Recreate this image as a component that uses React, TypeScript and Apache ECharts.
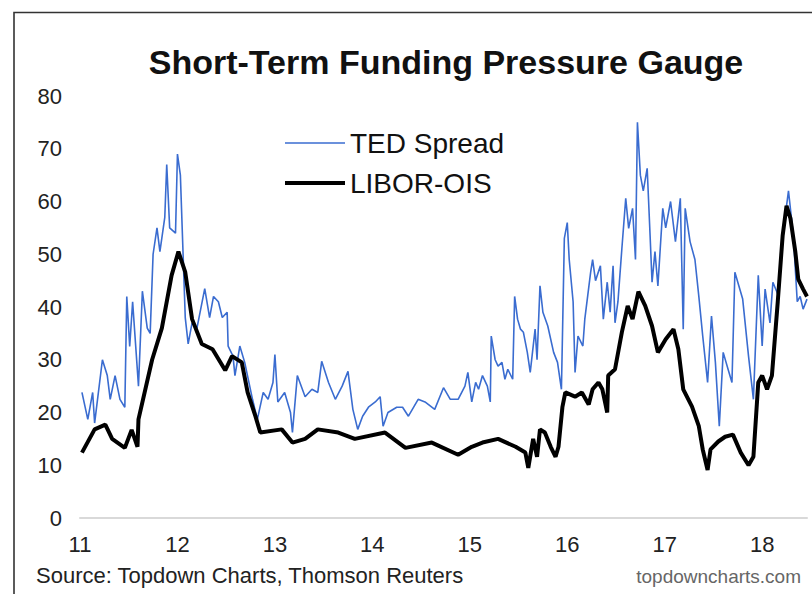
import React, { useEffect, useRef } from "react";
import * as echarts from "echarts";

const chartTitle = "Short-Term Funding Pressure Gauge";
const sourceText = "Source: Topdown Charts, Thomson Reuters";
const siteText = "topdowncharts.com";
const seriesNames = ["TED Spread", "LIBOR-OIS"];

const yearTicks = [2011, 2012, 2013, 2014, 2015, 2016, 2017, 2018];
const yearLabels = ["11", "12", "13", "14", "15", "16", "17", "18"];

const tedDates = [
  2011.02, 2011.08, 2011.13, 2011.15, 2011.23, 2011.28, 2011.31, 2011.36, 2011.41, 2011.46,
  2011.48, 2011.51, 2011.54, 2011.6, 2011.64, 2011.69, 2011.72, 2011.75, 2011.79, 2011.82,
  2011.87, 2011.89, 2011.92, 2011.98, 2012.0, 2012.03, 2012.08, 2012.11, 2012.15, 2012.2,
  2012.28, 2012.33, 2012.37, 2012.42, 2012.46, 2012.51, 2012.52, 2012.57, 2012.59, 2012.64,
  2012.69, 2012.77, 2012.82, 2012.88, 2012.93, 2012.98, 2013.0, 2013.03, 2013.1, 2013.16,
  2013.18, 2013.23, 2013.31, 2013.38, 2013.44, 2013.48, 2013.55, 2013.62, 2013.69, 2013.75,
  2013.8, 2013.85, 2013.9, 2013.96, 2014.03, 2014.08, 2014.11, 2014.16, 2014.25, 2014.31,
  2014.37, 2014.47, 2014.54, 2014.64, 2014.73, 2014.8, 2014.88, 2014.95, 2014.98, 2015.02,
  2015.06, 2015.09, 2015.13, 2015.18, 2015.21, 2015.22, 2015.26, 2015.29, 2015.33, 2015.36,
  2015.39, 2015.44, 2015.46, 2015.49, 2015.52, 2015.55, 2015.59, 2015.62, 2015.67, 2015.69,
  2015.72, 2015.75, 2015.8, 2015.86, 2015.9, 2015.94, 2015.97, 2016.0, 2016.02, 2016.06,
  2016.08, 2016.11, 2016.16, 2016.18, 2016.24, 2016.26, 2016.29, 2016.34, 2016.37, 2016.41,
  2016.44, 2016.47, 2016.49, 2016.52, 2016.56, 2016.6, 2016.63, 2016.67, 2016.7, 2016.72,
  2016.75, 2016.78, 2016.82, 2016.85, 2016.87, 2016.9, 2016.93, 2016.98, 2017.01, 2017.06,
  2017.11, 2017.16, 2017.19, 2017.21, 2017.26, 2017.31, 2017.35, 2017.39, 2017.44, 2017.48,
  2017.52, 2017.56, 2017.6, 2017.65, 2017.69, 2017.72, 2017.8, 2017.86, 2017.91, 2017.96,
  2018.0, 2018.03, 2018.08, 2018.11, 2018.17, 2018.21, 2018.27, 2018.32, 2018.36, 2018.39,
  2018.42, 2018.46,
];
const tedValues = [
  23.8, 18.7, 23.8, 18, 30, 27, 22.5, 27, 22.5, 21,
  42, 32.5, 41, 25, 43, 36, 35, 50, 55, 50.5,
  57, 67, 55, 54, 69, 65, 38, 33, 37, 36,
  43.5, 38, 42, 41, 38, 39, 32.6, 30.7, 27, 32.6,
  29.5, 22.5, 18.7, 23.8, 22.5, 25.7, 31, 22, 23.8, 20,
  16.2, 27, 23, 24.4, 23.8, 29.7, 25.7, 22.5, 25, 27.8,
  20.6, 16.8, 19.3, 21, 22, 23, 17.4, 20, 21, 21,
  19.3, 22.5, 22, 20.6, 24.7, 22.5, 22.5, 25, 27.6, 22,
  25.7, 24.4, 27, 25, 22, 34.5, 30, 28.8, 29.5, 26.3,
  28.2, 26.3, 42, 37.7, 35.8, 35.2, 31.4, 27.6, 35.8, 30,
  44, 39, 36.4, 31.4, 29.5, 24.4, 53, 56, 49, 41,
  27.6, 34.5, 32.6, 37.7, 46.6, 49, 45, 47.8, 37.7, 44.7,
  39, 47.8, 37, 41, 51, 60.6, 54.9, 58.7, 49, 75,
  65, 62, 66.3, 53.5, 44.7, 50.5, 44, 58.7, 55, 60,
  52.4, 60.6, 35.8, 58.7, 52.4, 49, 42, 34.5, 25.7, 38.3,
  29.5, 17.4, 31.4, 28.2, 25.7, 46.6, 41.5, 30.7, 22.5, 46,
  32.6, 43.4, 37, 44.7, 42, 53.5, 62, 53.5, 41, 42,
  39.6, 41.5,
];

const liborDates = [
  2011.02, 2011.15, 2011.26, 2011.33, 2011.46, 2011.53, 2011.59, 2011.6, 2011.74, 2011.84,
  2011.94, 2012.01, 2012.08, 2012.15, 2012.25, 2012.36, 2012.49, 2012.56, 2012.66, 2012.72,
  2012.8, 2012.85, 2013.07, 2013.18, 2013.31, 2013.44, 2013.65, 2013.82, 2014.13, 2014.34,
  2014.61, 2014.88, 2015.02, 2015.13, 2015.29, 2015.47, 2015.57, 2015.6, 2015.65, 2015.69,
  2015.72, 2015.77, 2015.83, 2015.88, 2015.91, 2015.95, 2015.98, 2016.08, 2016.15, 2016.22,
  2016.26, 2016.32, 2016.36, 2016.41, 2016.42, 2016.49, 2016.56, 2016.62, 2016.67, 2016.73,
  2016.8, 2016.87, 2016.93, 2017.01, 2017.09, 2017.14, 2017.19, 2017.28, 2017.35, 2017.39,
  2017.44, 2017.47, 2017.55, 2017.62, 2017.7, 2017.78, 2017.86, 2017.91, 2017.96, 2018.0,
  2018.05, 2018.1, 2018.16, 2018.21, 2018.25, 2018.29, 2018.34, 2018.37, 2018.42, 2018.46,
];
const liborValues = [
  12.4, 16.8, 17.7, 15, 13.3, 16.7, 13.5, 18.7, 30, 36,
  46, 50.5, 46.6, 37.7, 33, 32, 28, 30.7, 29.5, 23.8,
  19.3, 16.2, 16.8, 14.3, 15, 16.8, 16.2, 15, 16.2, 13.3,
  14.3, 12, 13.5, 14.3, 15, 13.5, 12.4, 9.5, 15, 11.6,
  16.8, 16.2, 13.5, 11.6, 13.5, 21, 23.8, 23, 23.8, 21.5,
  24.4, 25.7, 24.4, 20, 27, 28.2, 35.2, 40.2, 37.7, 42.9,
  40.2, 36.4, 31.4, 33.9, 35.8, 32, 24.4, 21.1, 17.4, 13,
  9.1, 13, 14.5, 15.4, 15.8, 12.4, 10, 11.6, 25.7, 27,
  24.4, 27, 41, 53.5, 59.2, 56.8, 50.5, 45.3, 43.4, 42,
];

const FONT = "'Liberation Sans', Arial, Helvetica, sans-serif";
const TED_COLOR = "#3a6cd0";
const LIBOR_COLOR = "#000000";

export default function App() {
  const ref = useRef<HTMLDivElement>(null);

  useEffect(() => {
    if (!ref.current) return;
    const chart = echarts.init(ref.current, undefined, { renderer: "svg" });
    const tedData = tedDates.map((d, i) => [d, tedValues[i]]);
    const liborData = liborDates.map((d, i) => [d, liborValues[i]]);

    chart.setOption({
      animation: false,
      backgroundColor: "#ffffff",
      textStyle: { fontFamily: FONT },
      grid: { left: 80, right: 5, top: 96, bottom: 76, containLabel: false },
      legend: {
        orient: "vertical",
        left: 280,
        top: 124,
        itemWidth: 60,
        itemHeight: 14,
        itemGap: 12,
        symbolKeepAspect: true,
        data: [
          {
            name: seriesNames[0],
            icon: "path://M0,0 L60,0 L60,1.6 L0,1.6 Z",
            itemStyle: { color: TED_COLOR, borderWidth: 0 },
          },
          {
            name: seriesNames[1],
            icon: "path://M0,0 L60,0 L60,4 L0,4 Z",
            itemStyle: { color: LIBOR_COLOR, borderWidth: 0 },
          },
        ],
        textStyle: { fontSize: 28, color: "#111111", fontFamily: FONT },
      },
      xAxis: {
        type: "value",
        min: 2011,
        max: 2018.46,
        interval: 1,
        axisLine: { show: true, lineStyle: { color: "#d9d9d9", width: 2 } },
        axisTick: { show: false },
        splitLine: { show: false },
        axisLabel: {
          margin: 15,
          fontSize: 22,
          color: "#222222",
          fontFamily: FONT,
          showMaxLabel: false,
          formatter: (v: number) => {
            const r = Math.round(v);
            if (Math.abs(v - r) > 1e-6) return "";
            const i = yearTicks.indexOf(r);
            return i >= 0 ? yearLabels[i] : "";
          },
        },
      },
      yAxis: {
        type: "value",
        min: 0,
        max: 80,
        interval: 10,
        axisLine: { show: false },
        axisTick: { show: false },
        splitLine: { show: false },
        axisLabel: { margin: 18, fontSize: 22, color: "#222222", fontFamily: FONT },
      },
      series: [
        {
          name: seriesNames[0],
          type: "line",
          data: tedData,
          symbol: "none",
          showSymbol: false,
          lineStyle: { color: TED_COLOR, width: 1.6 },
          itemStyle: { color: TED_COLOR },
          z: 2,
        },
        {
          name: seriesNames[1],
          type: "line",
          data: liborData,
          symbol: "none",
          showSymbol: false,
          lineStyle: { color: LIBOR_COLOR, width: 4 },
          itemStyle: { color: LIBOR_COLOR },
          z: 3,
        },
      ],
      graphic: [
        {
          type: "polyline",
          shape: { points: [[14, 594], [14, 12.5], [812, 12.5]] },
          style: { stroke: "#333333", lineWidth: 1.6, fill: "none" },
          silent: true,
        },
        {
          type: "text",
          x: 446,
          y: 62,
          style: {
            text: chartTitle,
            fontSize: 34,
            fontWeight: "bold",
            fontFamily: FONT,
            fill: "#111111",
            textAlign: "center",
            textVerticalAlign: "middle",
          },
        },
        {
          type: "text",
          x: 36,
          y: 575,
          style: {
            text: sourceText,
            fontSize: 22,
            fontFamily: FONT,
            fill: "#222222",
            textAlign: "left",
            textVerticalAlign: "middle",
          },
        },
        {
          type: "text",
          x: 801,
          y: 576,
          style: {
            text: siteText,
            fontSize: 19,
            fontFamily: FONT,
            fill: "#666666",
            textAlign: "right",
            textVerticalAlign: "middle",
          },
        },
      ],
    });

    return () => {
      chart.dispose();
    };
  }, []);

  return (
    <div
      ref={ref}
      style={{ position: "absolute", left: 0, top: 0, width: 812, height: 594 }}
    />
  );
}
